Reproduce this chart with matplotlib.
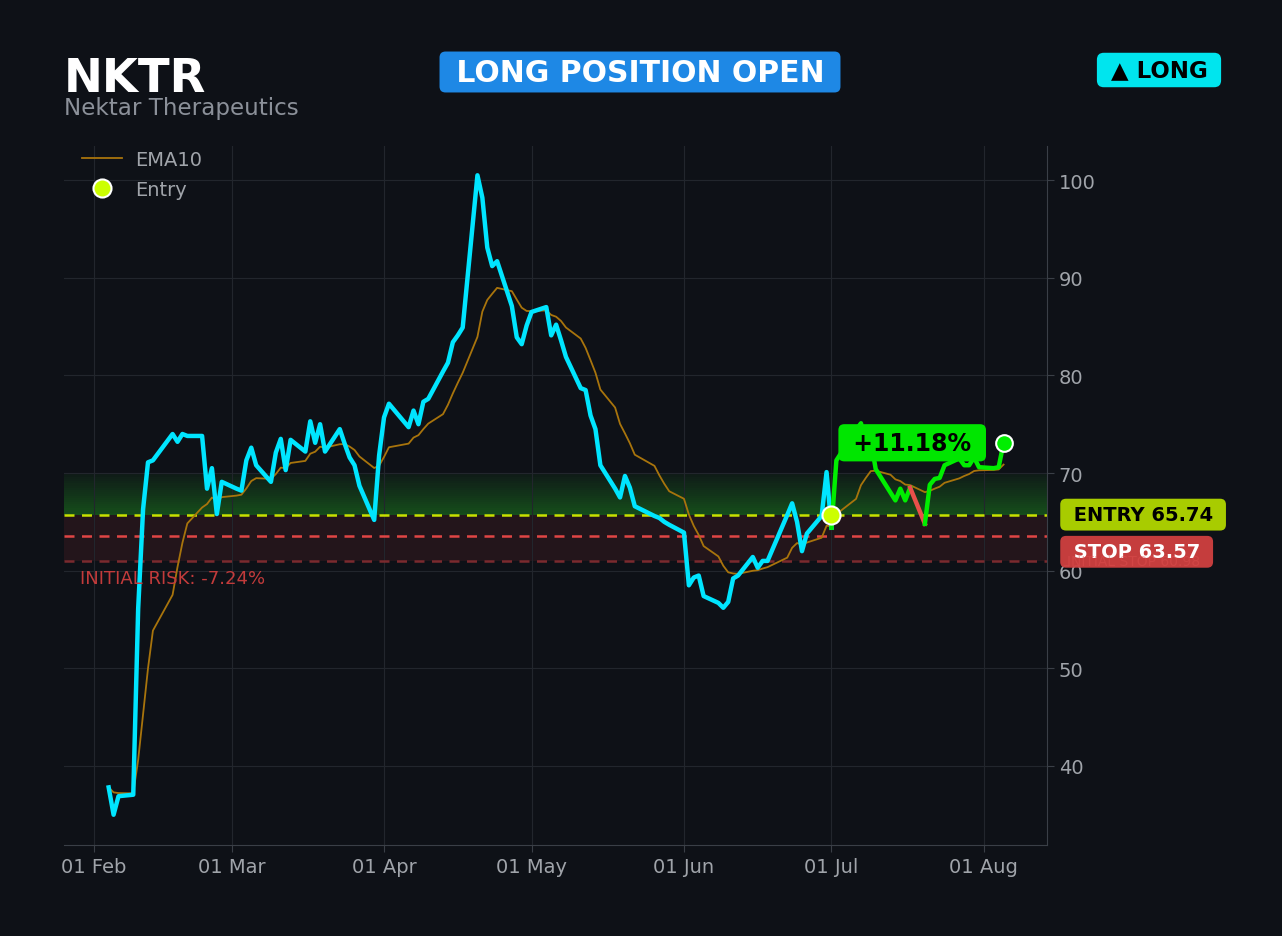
import pandas as pd
import matplotlib.pyplot as plt
import matplotlib.dates as mdates
import matplotlib.transforms as mtransforms
from matplotlib.lines import Line2D

ticker = 'NKTR'
company = 'Nektar Therapeutics'
entry_price = 65.74
stop_price = 63.57
initial_stop = 60.98
entry_date = pd.Timestamp('2026-07-01')

holidays = ['2026-02-16', '2026-04-03', '2026-05-25', '2026-06-19', '2026-07-03']
dates = pd.bdate_range('2026-02-04', '2026-08-05')
dates = dates[~dates.isin(pd.to_datetime(holidays))]

closes = [
    # Feb
    37.8, 35.0, 36.9, 37.05, 56.1, 66.3, 71.1, 71.3, 74.0, 73.2, 74.0, 73.8,
    73.8, 68.4, 70.5, 65.8, 69.1,
    # Mar
    68.4, 68.2, 71.3, 72.6, 70.8, 69.1, 72.1, 73.5, 70.3, 73.4, 72.2, 75.3,
    73.1, 75.0, 72.2, 74.5, 73.0, 71.6, 70.8, 68.7, 65.2, 71.8,
    # Apr
    75.7, 77.1, 74.7, 76.4, 75.0, 77.3, 77.6, 80.4, 81.3, 83.4, 84.1, 84.9,
    100.5, 98.2, 93.1, 91.2, 91.7, 87.1, 83.9, 83.2, 85.1,
    # May
    86.5, 87.0, 84.1, 85.2, 83.6, 81.9, 78.7, 78.5, 75.9, 74.5, 70.8, 68.4,
    67.5, 69.7, 68.5, 66.6, 65.6, 65.4, 65.0, 64.7,
    # Jun
    63.9, 58.5, 59.3, 59.5, 57.4, 56.7, 56.2, 56.8, 59.2, 59.5, 61.4, 60.3,
    61.0, 61.0, 65.7, 66.9, 65.0, 62.0, 63.8, 65.6, 70.1,
    # Jul
    64.4, 71.3, 74.4, 75.1, 72.9, 73.3, 70.4, 68.0, 67.2, 68.4, 67.2, 68.5,
    64.8, 68.8, 69.4, 69.5, 70.8, 71.5, 70.8, 70.8, 71.6, 70.6,
    # Aug
    70.5, 70.6, 73.09,
]

price = pd.Series(closes, index=dates)
ema10 = price.ewm(span=10, adjust=False).mean()

bg = '#0e1117'
grid_c = '#22262d'
text_c = '#a0a4aa'
cyan = '#00e5ff'
green = '#00ee00'
red = '#e8504a'

fig = plt.figure(figsize=(12.82, 9.37), dpi=100, facecolor=bg)
ax = fig.add_axes([64 / 1282, 1 - 846 / 937, 983 / 1282, 699 / 937])
ax.set_facecolor(bg)

# zones
ax.axhspan(initial_stop, entry_price, color='#e04040', alpha=0.1, lw=0, zorder=0)
n_bands = 20
top_zone = 70.0
step = (top_zone - entry_price) / n_bands
for i in range(n_bands):
    ax.axhspan(entry_price + i * step, entry_price + (i + 1) * step,
               color='#22aa22', alpha=0.34 * (1 - i / n_bands) + 0.05, lw=0, zorder=0)

ax.axhline(entry_price, color='#c8e000', ls=(0, (4, 3)), lw=1.8, zorder=2)
ax.axhline(stop_price, color='#e04545', ls=(0, (4, 3)), lw=1.8, zorder=2)
ax.axhline(initial_stop, color='#7a2a2e', ls=(0, (4, 3)), lw=1.8, zorder=2)

ax.plot(ema10.index, ema10.values, color='#a8740c', lw=1.3, zorder=3, label='EMA10')

pre = price[price.index <= entry_date]
ax.plot(pre.index, pre.values, color=cyan, lw=3.2, zorder=4)

post = price[price.index >= entry_date]
seg_col = [green if v >= entry_price else red for v in post.values[1:]]
start = 0
for i in range(1, len(seg_col) + 1):
    if i == len(seg_col) or seg_col[i] != seg_col[start]:
        part = post.iloc[start:i + 1]
        ax.plot(part.index, part.values, color=seg_col[start], lw=3.2, zorder=4)
        start = i

ax.plot([entry_date], [entry_price], 'o', ms=13, color='#ccff00', mec='white', mew=1.5, zorder=6)
ax.plot([price.index[-1]], [price.values[-1]], 'o', ms=12, color=green, mec='white', mew=1.5, zorder=6)

pct = (price.values[-1] / entry_price - 1) * 100
ax.text(pd.Timestamp('2026-07-17 10:00'), 73.1, f' +{pct:.2f}% ', ha='center', va='center',
        fontsize=17, fontweight='bold', color='black', zorder=5,
        bbox=dict(boxstyle='round,pad=0.28,rounding_size=0.25', fc='#00e600', ec='none'))

trans = mtransforms.blended_transform_factory(ax.transAxes, ax.transData)
risk = (initial_stop / entry_price - 1) * 100
ax.text(0.016, 59.2, f'INITIAL RISK: {risk:.2f}%', transform=trans,
        fontsize=13, color='#c23b3b', va='center', ha='left', zorder=5)

ax.annotate(f' STOP {stop_price:.2f} ', xy=(1.0135, stop_price), xycoords=trans,
            xytext=(4.6, -11.5), textcoords='offset points', fontsize=14, fontweight='bold',
            color='white', va='center', ha='left', annotation_clip=False, zorder=7,
            bbox=dict(boxstyle='round,pad=0.33,rounding_size=0.3', fc='#d04040', ec='none', alpha=0.95))
ax.text(1.0205, initial_stop, f'INITIAL STOP {initial_stop:.2f}', transform=trans, fontsize=10,
        color='#e05050', alpha=0.45, va='center', ha='left', clip_on=False, zorder=7.5)
ax.annotate(f' ENTRY {entry_price:.2f} ', xy=(1.0135, entry_price), xycoords=trans,
            xytext=(4.6, 0), textcoords='offset points',
            fontsize=14, fontweight='bold', color='black', va='center', ha='left',
            annotation_clip=False, zorder=8,
            bbox=dict(boxstyle='round,pad=0.33,rounding_size=0.3', fc='#a8cc00', ec='none'))

ax.set_xlim(pd.Timestamp('2026-01-25 22:00'), pd.Timestamp('2026-08-13 20:00'))
ax.set_ylim(31.9, 103.5)
ax.yaxis.tick_right()
ax.set_yticks([40, 50, 60, 70, 80, 90, 100])
ax.xaxis.set_major_locator(mdates.MonthLocator())
ax.xaxis.set_major_formatter(mdates.DateFormatter('%d %b'))
ax.tick_params(colors=text_c, labelsize=14, length=5, color='#3a3f47')
ax.grid(True, color=grid_c, lw=0.8, zorder=0)
for side in ['top', 'left']:
    ax.spines[side].set_visible(False)
for side in ['right', 'bottom']:
    ax.spines[side].set_color('#3a3f47')

handles = [Line2D([], [], color='#a8740c', lw=1.3),
           Line2D([], [], ls='', marker='o', ms=13, color='#ccff00', mec='white', mew=1.5)]
ax.legend(handles, ['EMA10', 'Entry'], loc='upper left', bbox_to_anchor=(0.010, 1.005),
          frameon=False, fontsize=14, labelcolor=text_c, handlelength=2.1,
          borderaxespad=0.0, handletextpad=0.65, labelspacing=0.55)

fig.text(64 / 1282, 1 - 80 / 937, ticker, fontsize=33.5, fontweight='bold', color='white', va='center')
fig.text(64 / 1282, 1 - 109 / 937, company, fontsize=16.6, color='#8b9099', va='center')
fig.text(640 / 1282, 1 - 73 / 937, ' LONG POSITION OPEN ', fontsize=21.5, fontweight='bold', color='white',
         ha='center', va='center',
         bbox=dict(boxstyle='round,pad=0.2,rounding_size=0.2', fc='#1e88e5', ec='none'))
fig.text(1159 / 1282, 1 - 71 / 937, ' ▲ LONG ', fontsize=16.5, fontweight='bold', color='black',
         ha='center', va='center',
         bbox=dict(boxstyle='round,pad=0.25,rounding_size=0.3', fc='#00e5ee', ec='none'))

fig.savefig('out.png', dpi=100, facecolor=bg)
